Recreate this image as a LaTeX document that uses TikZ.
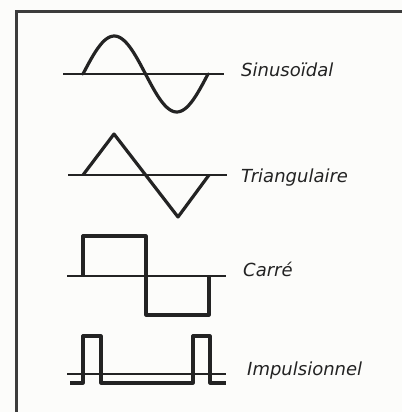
\documentclass[tikz,border=0pt]{standalone}
\usepackage{fontspec}
\setsansfont{DejaVu Sans}
\usepackage{tikz}
\usetikzlibrary{positioning}
\definecolor{inkcolor}{RGB}{35,35,35}
\definecolor{papercolor}{RGB}{252,252,250}
\definecolor{framecolor}{RGB}{60,60,60}

\begin{document}
\begin{tikzpicture}[
  x=1pt,y=-1pt,
  axe/.style={draw=inkcolor,line width=1.9pt},
  onde/.style={draw=inkcolor,line width=3.2pt,line join=round},
  cadre/.style={draw=framecolor,line width=3pt},
  nom/.style={anchor=base west,inner sep=0pt,font=\sffamily\itshape\fontsize{18}{18}\selectfont,text=inkcolor}
]
\useasboundingbox[fill=papercolor] (0,0) rectangle (402,412);
%% Cadre
\draw[cadre] (16,412) -- (16,12) -- (402,12);
%% Sinusoïdal
\draw[axe] (63,74) -- (224,74);
\draw[onde,line cap=round] plot[domain=83:208,samples=60,smooth] (\x,{74-38*sin(2.88*(\x-83))});
\node[nom] (sinus) at (241,76) {Sinusoïdal};
%% Triangulaire
\draw[axe] (68,175) -- (227,175);
\draw[onde] (83,175) -- (114,134) -- (178,217) -- (209,175);
\node[nom] (tri) at (241,182) {Triangulaire};
%% Carré
\draw[axe] (67,276) -- (226,276);
\draw[onde] (83,276) -- (83,236) -- (146,236) -- (146,315) -- (209,315) -- (209,276);
\node[nom] (carre) at (243,276) {Carré};
%% Impulsionnel
\draw[axe] (67,374) -- (226,374);
\draw[onde] (70,383) -- (83,383) -- (83,336) -- (101,336) -- (101,383)
  -- (193,383) -- (193,336) -- (210,336) -- (210,383) -- (226,383);
\node[nom] (impuls) at (247,375) {Impulsionnel};
\end{tikzpicture}
\end{document}
